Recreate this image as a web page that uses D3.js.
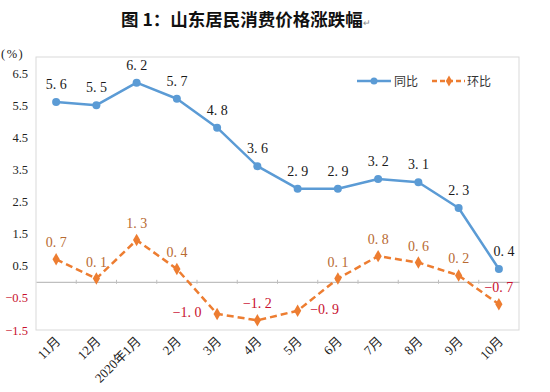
<!DOCTYPE html>
<html>
<head>
<meta charset="utf-8">
<script src="https://cdn.jsdelivr.net/npm/d3@7"></script>
<style>
  body { margin: 0; background: #fff; }
  svg { display: block; }
</style>
</head>
<body>
<div id="wrapper"></div>
<script>
// categories and series
const months = ["11月", "12月", "2020年1月", "2月", "3月", "4月", "5月", "6月", "7月", "8月", "9月", "10月"];
const yoy = [5.6, 5.5, 6.2, 5.7, 4.8, 3.6, 2.9, 2.9, 3.2, 3.1, 2.3, 0.4];   // 同比
const mom = [0.7, 0.1, 1.3, 0.4, -1.0, -1.2, -0.9, 0.1, 0.8, 0.6, 0.2, -0.7]; // 环比
const yTicks = [6.5, 5.5, 4.5, 3.5, 2.5, 1.5, 0.5, -0.5, -1.5];
// where each 环比 label sits relative to its point
const momLabelPos = ["top", "top", "top", "top", "left", "top", "right", "top", "top", "top", "top", "top"];

const width = 550, height = 392;
const plot = { left: 36, right: 519, top: 57, bottom: 330 };

const svg = d3.select("#wrapper").append("svg")
    .attr("width", width)
    .attr("height", height);

// title
const title = svg.append("text")
    .attr("x", 121).attr("y", 26)
    .attr("font-family", "Noto Sans CJK SC")
    .attr("font-weight", "bold")
    .attr("font-size", 17.5)
    .attr("fill", "#111");
title.append("tspan").text("图 1：山东居民消费价格涨跌幅");
title.append("tspan").attr("font-size", 9).attr("fill", "#888").attr("font-weight", "normal").text("↵");

// scales
const x = d3.scaleBand().domain(months).range([plot.left, plot.right]);
const y = d3.scaleLinear().domain([-1.5, 7.0]).range([plot.bottom, plot.top]);
const cx = (d, i) => x(months[i]) + x.bandwidth() / 2;

// plot frame
svg.append("rect")
    .attr("x", plot.left).attr("y", plot.top)
    .attr("width", plot.right - plot.left).attr("height", plot.bottom - plot.top)
    .attr("fill", "none").attr("stroke", "#d9d9d9").attr("stroke-width", 1);

// y axis labels
svg.append("text").attr("x", 1).attr("y", 58)
    .attr("font-family", "Liberation Serif").attr("font-size", 12.5).attr("fill", "#222")
    .attr("letter-spacing", 1.5)
    .text("(%)");

const yAxis = svg.append("g")
    .attr("transform", `translate(${plot.left - 5},0)`)
    .call(d3.axisLeft(y).tickValues(yTicks).tickSize(0).tickFormat(d3.format(".1f")));
yAxis.select(".domain").remove();
yAxis.selectAll("text")
    .attr("font-family", "Liberation Serif").attr("font-size", 12.5)
    .attr("fill", d => d < 0 ? "#c8102e" : "#222");

// zero line with category ticks
const xAxis = svg.append("g")
    .attr("transform", `translate(0,${y(0)})`)
    .call(d3.axisBottom(x).tickSize(0).tickFormat(""));
xAxis.select(".domain").attr("stroke", "#bfbfbf").attr("stroke-width", 1.2);
svg.append("g").selectAll("line")
    .data(months.slice(1))
    .join("line")
    .attr("x1", d => x(d)).attr("x2", d => x(d))
    .attr("y1", y(0) - 2).attr("y2", y(0) + 2)
    .attr("stroke", "#bfbfbf");

// x labels (rotated)
svg.append("g").selectAll("text")
    .data(months)
    .join("text")
    .attr("transform", d => `translate(${x(d) + x.bandwidth() / 2 + 5},${plot.bottom + 12}) rotate(-45)`)
    .attr("text-anchor", "end")
    .attr("font-family", "Liberation Serif, Noto Sans CJK SC")
    .attr("font-size", 13)
    .attr("fill", "#222")
    .text(d => d);

const fmt = v => d3.format(".1f")(v).replace("-", "−").replace(".", ". ");

// 同比 line
const lineYoy = d3.line().x(cx).y(d => y(d));
svg.append("path")
    .attr("d", lineYoy(yoy))
    .attr("fill", "none").attr("stroke", "#5b9bd5").attr("stroke-width", 2.5)
    .attr("stroke-linejoin", "round");
svg.append("g").selectAll("circle")
    .data(yoy)
    .join("circle")
    .attr("cx", cx).attr("cy", d => y(d)).attr("r", 4)
    .attr("fill", "#5b9bd5");
svg.append("g").selectAll("text")
    .data(yoy)
    .join("text")
    .attr("x", (d, i) => cx(d, i) + (i === 11 ? 5 : 0))
    .attr("y", d => y(d) - 13)
    .attr("text-anchor", "middle")
    .attr("font-family", "Liberation Serif").attr("font-size", 14)
    .attr("fill", "#1a1a1a")
    .text(fmt);

// 环比 line
const lineMom = d3.line().x(cx).y(d => y(d));
svg.append("path")
    .attr("d", lineMom(mom))
    .attr("fill", "none").attr("stroke", "#ed7d31").attr("stroke-width", 2.5)
    .attr("stroke-dasharray", "7,4");
svg.append("g").selectAll("path")
    .data(mom)
    .join("path")
    .attr("d", d3.symbol(d3.symbolDiamond, 45))
    .attr("transform", (d, i) => `translate(${cx(d, i)},${y(d)})`)
    .attr("fill", "#ed7d31");
svg.append("g").selectAll("text")
    .data(mom)
    .join("text")
    .attr("x", (d, i) => cx(d, i) + (momLabelPos[i] === "left" ? -30 : momLabelPos[i] === "right" ? 27 : 0))
    .attr("y", (d, i) => momLabelPos[i] === "top" ? y(d) - 12 : y(d) + 3)
    .attr("text-anchor", "middle")
    .attr("font-family", "Liberation Serif").attr("font-size", 14)
    .attr("fill", d => d < 0 ? "#c8102e" : "#b86a32")
    .text(fmt);

// legend
const legend = svg.append("g").attr("transform", "translate(357,81)");
legend.append("line").attr("x1", 0).attr("x2", 34).attr("stroke", "#5b9bd5").attr("stroke-width", 2.5);
legend.append("circle").attr("cx", 17).attr("r", 3.5).attr("fill", "#5b9bd5");
legend.append("text").attr("x", 37).attr("y", 5)
    .attr("font-family", "Noto Sans CJK SC").attr("font-size", 12).attr("fill", "#333").text("同比");
legend.append("line").attr("x1", 75).attr("x2", 108).attr("stroke", "#ed7d31").attr("stroke-width", 2.5)
    .attr("stroke-dasharray", "5,3");
legend.append("path").attr("d", d3.symbol(d3.symbolDiamond, 35)).attr("transform", "translate(92,0)").attr("fill", "#ed7d31");
legend.append("text").attr("x", 110).attr("y", 5)
    .attr("font-family", "Noto Sans CJK SC").attr("font-size", 12).attr("fill", "#333").text("环比");
</script>
</body>
</html>
